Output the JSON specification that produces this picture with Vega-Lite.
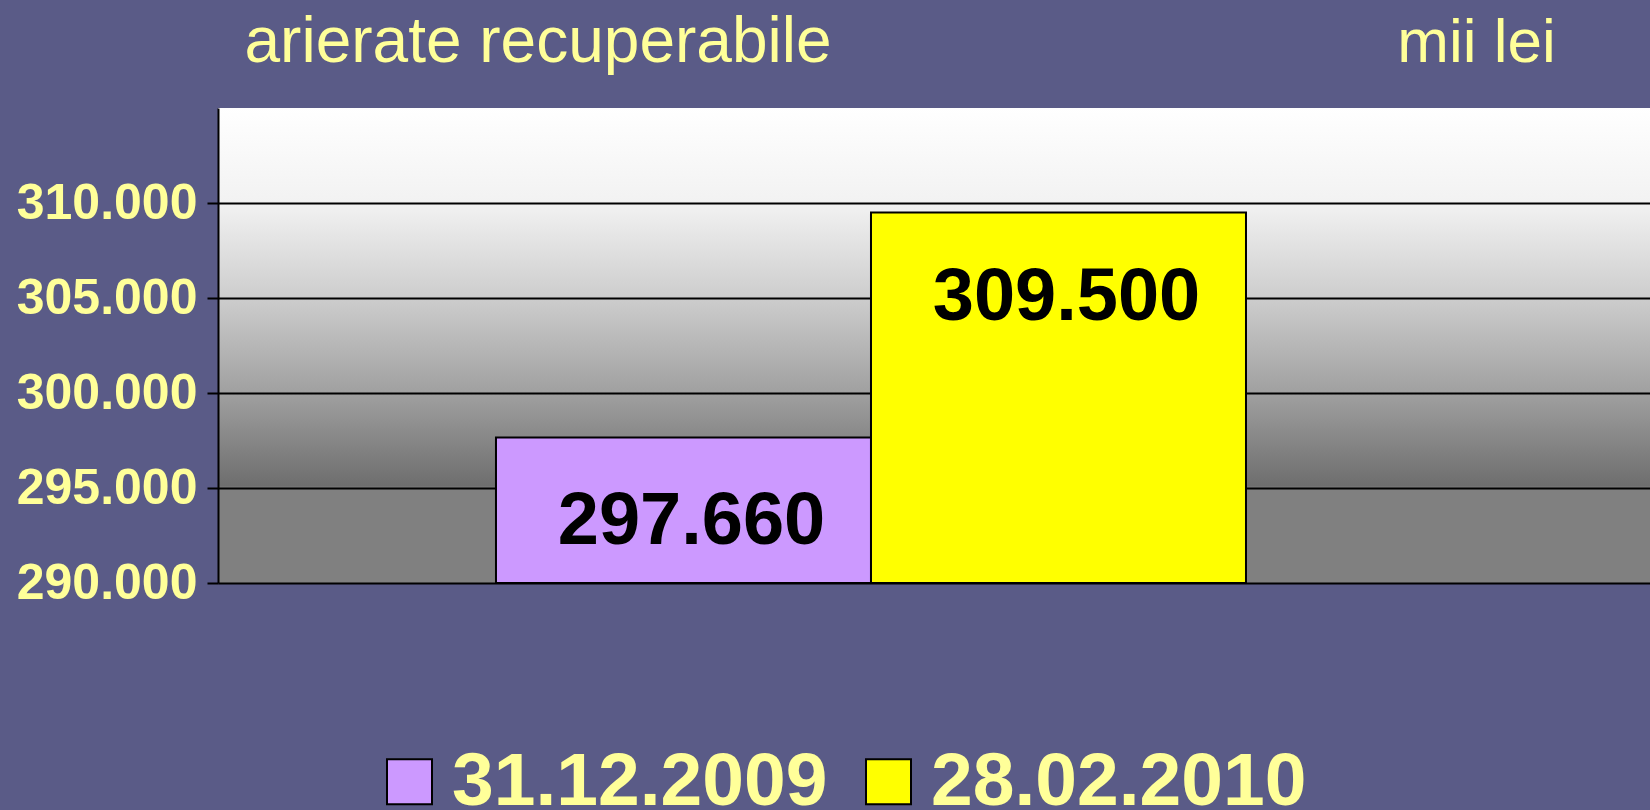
{
  "$schema": "https://vega.github.io/schema/vega-lite/v6.json",
  "width": 1432,
  "height": 475,
  "autosize": {"type": "none"},
  "padding": {"left": 218, "top": 108, "right": 0, "bottom": 227},
  "background": "#5a5b87",
  "config": {
    "font": "Liberation Sans",
    "locale": {"number": {"decimal": ",", "thousands": ".", "grouping": [3], "currency": ["", ""]}},
    "view": {
      "stroke": null,
      "fill": {
        "gradient": "linear", "x1": 0, "y1": 0, "x2": 0, "y2": 1,
        "stops": [
          {"offset": 0, "color": "#ffffff"},
          {"offset": 0.2, "color": "#f2f2f2"},
          {"offset": 0.4, "color": "#cdcdcd"},
          {"offset": 0.6, "color": "#a0a0a0"},
          {"offset": 0.795, "color": "#6e6e6e"},
          {"offset": 0.8, "color": "#808080"},
          {"offset": 1, "color": "#808080"}
        ]
      }
    }
  },
  "data": {
    "values": [
      {"date": "31.12.2009", "value": 297660},
      {"date": "28.02.2010", "value": 309500}
    ]
  },
  "resolve": {"axis": {"y": "independent"}},
  "layer": [
    {
      "mark": {"type": "bar", "stroke": "black", "strokeWidth": 2},
      "encoding": {
        "x": {
          "field": "date", "type": "nominal", "sort": null,
          "scale": {"paddingInner": 0, "paddingOuter": 0.9093, "align": 0.4076},
          "axis": {"orient": "bottom", "title": null, "labels": false, "ticks": false, "domainColor": "black", "domainWidth": 2}
        },
        "y": {
          "field": "value", "type": "quantitative",
          "scale": {"domain": [290000, 315000], "zero": false, "nice": false},
          "axis": {
            "orient": "left",
            "values": [290000, 295000, 300000, 305000, 310000],
            "format": ",d",
            "labelFont": "Liberation Sans", "labelFontSize": 50, "labelFontWeight": "bold",
            "labelColor": "#ffff99", "labelPadding": 10, "labelBaseline": "middle", "labelLimit": 0,
            "tickSize": 11, "tickColor": "black", "tickWidth": 2,
            "domainColor": "black", "domainWidth": 2,
            "grid": true, "gridColor": "black", "gridWidth": 2,
            "title": "arierate recuperabile",
            "titleAngle": 0, "titleAlign": "left", "titleBaseline": "middle",
            "titleX": 26, "titleY": -66, "titleLimit": 0,
            "titleFont": "Liberation Sans", "titleFontSize": 64, "titleFontWeight": "normal",
            "titleColor": "#ffff99"
          }
        },
        "y2": {"datum": 290000},
        "color": {
          "field": "date", "type": "nominal", "sort": null,
          "scale": {"domain": ["31.12.2009", "28.02.2010"], "range": ["#cc99ff", "#ffff00"]},
          "legend": {
            "orient": "none", "direction": "horizontal",
            "legendX": 154, "legendY": 636,
            "title": null,
            "labelFont": "Liberation Sans", "labelFontWeight": "bold", "labelFontSize": 75,
            "labelColor": "#ffff99", "labelLimit": 0,
            "symbolType": "square", "symbolSize": 2025,
            "symbolStrokeColor": "black", "symbolStrokeWidth": 2, "symbolOpacity": 1,
            "labelOffset": 5, "columnPadding": 23
          }
        }
      }
    },
    {
      "mark": {
        "type": "text", "font": "Liberation Sans", "fontWeight": "bold", "fontSize": 74,
        "color": "black", "baseline": "middle", "dy": 85, "dx": 8
      },
      "encoding": {
        "x": {"field": "date", "type": "nominal", "sort": null, "axis": null},
        "y": {
          "field": "value", "type": "quantitative",
          "axis": {
            "orient": "right", "labels": false, "ticks": false, "domain": false, "grid": false,
            "title": "mii lei", "titleAngle": 0, "titleAlign": "center", "titleBaseline": "middle",
            "titleX": -174, "titleY": -66, "titleLimit": 0,
            "titleFont": "Liberation Sans", "titleFontSize": 62, "titleFontWeight": "normal",
            "titleColor": "#ffff99"
          }
        },
        "text": {"field": "value", "type": "quantitative", "format": ",d"}
      }
    }
  ]
}
